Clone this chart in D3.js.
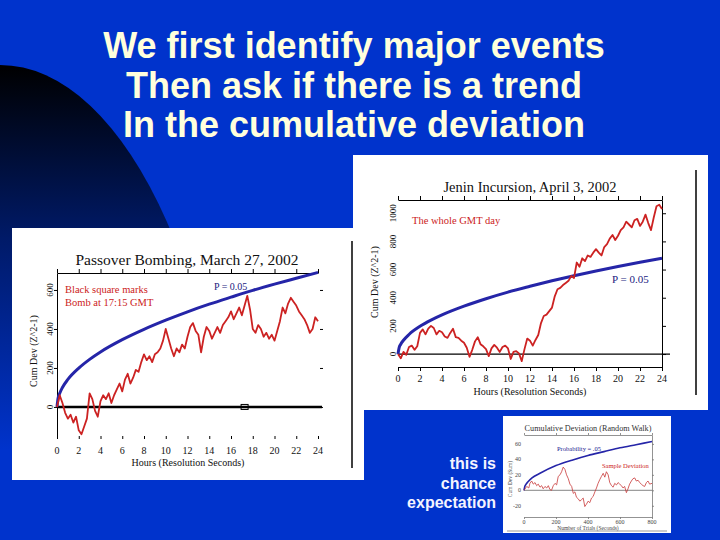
<!DOCTYPE html>
<html><head><meta charset="utf-8">
<script src="https://cdn.jsdelivr.net/npm/d3@7"></script>
<style>body{margin:0;background:#0033cc}svg{display:block}</style>
</head><body>
<svg id="c" width="720" height="540"></svg>
<script>
// ---------- text ----------
const titleLines = ["We first identify major events", "Then ask if there is a trend", "In the cumulative deviation"];
const noteLines = ["this is", "chance", "expectation"];

// ---------- Passover chart ----------
const passoverTitle = "Passover Bombing, March 27, 2002";
const passoverNotes = ["Black square marks", "Bomb at 17:15 GMT"];
const hourTicks = [0, 2, 4, 6, 8, 10, 12, 14, 16, 18, 20, 22, 24];
const passoverYTicks = [0, 200, 400, 600];
const sampleStepHours = 0.25; // data sampled every quarter hour
const passoverValues = [
  0, 60, 20, -30, -60, -40, -80, -50, -120, -140,
  -100, -60, 70, 40, -20, -50, 30, 60, 40, 70,
  20, 60, 90, 120, 80, 140, 170, 120, 150, 190,
  180, 230, 270, 240, 260, 230, 270, 280, 300, 340,
  400, 350, 300, 260, 300, 280, 320, 300, 360, 410,
  430, 390, 370, 280, 360, 410, 390, 350, 380, 410,
  380, 420, 440, 460, 490, 450, 480, 510, 470, 520,
  570, 500, 400, 380, 420, 400, 360, 380, 350, 370,
  340, 390, 440, 510, 480, 530, 560, 540, 520, 490,
  470, 450, 420, 380, 400, 460, 440];
const boundHours = [0, 0.1, 0.25, 0.5, 1, 2, 3, 4, 6, 8, 10, 12, 14, 16, 18, 20, 22, 24];
const passoverBound = [0, 44, 70, 100, 141, 199, 244, 282, 345, 398, 445, 488, 527, 563, 598, 630, 660, 690];
const bombHour = 17.25;

// ---------- Jenin chart ----------
const jeninTitle = "Jenin Incursion, April 3, 2002";
const jeninNote = "The whole GMT day";
const jeninYTicks = [0, 200, 400, 600, 800, 1000];
const jeninValues = [
  0, -30, 15, -5, 50, 60, 30, 55, 150, 175,
  140, 180, 200, 185, 140, 165, 155, 125, 115, 150,
  180, 120, 115, 95, 80, 45, -20, 30, 90, 120,
  70, 55, 35, -15, 40, 65, 45, 15, 50, 60,
  40, -35, 15, 20, 5, -50, 35, 110, 95, 60,
  100, 135, 220, 270, 280, 305, 330, 410, 460, 470,
  490, 505, 520, 555, 540, 650, 620, 680, 660, 700,
  690, 720, 745, 720, 700, 760, 780, 820, 845, 810,
  840, 880, 900, 940, 920, 900, 950, 960, 910, 940,
  990, 930, 880, 970, 1050, 1060, 1030];
const jeninBound = [0, 44, 70, 98, 139, 197, 241, 278, 340, 393, 440, 481, 520, 556, 590, 622, 652, 681];

// ---------- Random walk chart ----------
const walkTitle = "Cumulative Deviation (Random Walk)";
const walkXTicks = [0, 200, 400, 600, 800];
const walkYTicks = [-20, 0, 20, 40, 60];
const walkTrials = [
  0, 17, 30, 37, 48, 58, 69, 79, 89, 100,
  110, 120, 131, 142, 152, 162, 172, 183, 194, 204,
  214, 225, 235, 245, 256, 266, 277, 287, 298, 308,
  318, 328, 339, 349, 360, 370, 380, 390, 401, 411,
  422, 432, 443, 453, 463, 474, 484, 495, 505, 515,
  526, 536, 547, 557, 567, 578, 588, 598, 609, 619,
  629, 640, 650, 660, 671, 681, 692, 702, 713, 723,
  733, 744, 754, 765, 775, 785, 800];
const walkValues = [
  0, 5, 3, 9, 12, 8, 10, 6, 8, 4,
  6, 2, 5, 3, 6, 1, 0, 6, 9, 7,
  18, 20, 24, 30, 27, 20, 15, 8, 5, -4,
  -2, -9, -11, -14, -12, -10, -21, -18, -14, -16,
  -10, -8, -2, 3, 9, 14, 18, 22, 17, 24,
  20, 10, 6, 4, 9, 7, 10, 8, 6, 3,
  5, -3, 2, 8, 12, 15, 16, 12, 13, 10,
  8, 6, 5, 10, 12, 8, 9];
const walkBoundTrials = [0, 5, 10, 25, 50, 100, 200, 300, 400, 500, 600, 700, 800];
const walkBound = [0, 5, 7, 11, 16, 22, 32, 39, 45, 50, 55, 59, 63];

// ---------- drawing ----------
const RED = "#cc2222", BLUE = "#2525a8", SERIF = "'Liberation Serif','Times New Roman',serif";
const svg = d3.select("#c");
const defs = svg.append("defs");
const grad = defs.append("linearGradient").attr("id", "dark")
  .attr("gradientUnits", "userSpaceOnUse").attr("x1", 0).attr("y1", 65).attr("x2", 0).attr("y2", 450);
grad.append("stop").attr("offset", 0).attr("stop-color", "#000000");
grad.append("stop").attr("offset", 0.45).attr("stop-color", "#001a68");
grad.append("stop").attr("offset", 1).attr("stop-color", "#0033cc");

svg.append("rect").attr("width", 720).attr("height", 540).attr("fill", "#0033cc");
svg.append("ellipse").attr("cx", 0).attr("cy", 600).attr("rx", 236).attr("ry", 535).attr("fill", "url(#dark)");

svg.append("g").selectAll("text").data(titleLines).join("text")
  .attr("x", 354).attr("y", (d, i) => 58 + i * 39.5)
  .attr("text-anchor", "middle")
  .attr("font-family", "'Liberation Sans',Arial,sans-serif").attr("font-weight", "bold")
  .attr("font-size", 36).attr("fill", "#ffffdc").text(d => d);

function styleAxis(sel, color, width) {
  sel.selectAll("path,line").attr("stroke", color).attr("stroke-width", width);
  sel.selectAll("text").remove();
}
function txt(g, x, y, s, size, opts = {}) {
  const t = g.append("text").attr("x", x).attr("y", y).text(s)
    .attr("font-family", opts.family || SERIF).attr("font-size", size)
    .attr("fill", opts.fill || "#111").attr("text-anchor", opts.anchor || "start");
  if (opts.rotate) t.attr("transform", `rotate(-90,${x},${y})`);
  return t;
}

// ===== Jenin panel =====
{
  const g = svg.append("g");
  g.append("rect").attr("x", 353).attr("y", 155).attr("width", 355).attr("height", 255).attr("fill", "#fff");
  const x = d3.scaleLinear().domain([0, 24]).range([398, 662]);
  const y = d3.scaleLinear().domain([-92, 1094]).range([367, 200]);
  g.append("g").attr("transform", `translate(0,${y.range()[1]})`)
    .call(d3.axisTop(x).tickValues(hourTicks).tickSize(4).tickSizeOuter(0)).call(s => styleAxis(s, "#000", 1));
  g.append("g").attr("transform", `translate(0,${y.range()[0]})`)
    .call(d3.axisBottom(x).tickValues(hourTicks).tickSize(4).tickSizeOuter(0)).call(s => styleAxis(s, "#000", 1));
  g.append("g").attr("transform", `translate(${x.range()[1]},0)`)
    .call(d3.axisRight(y).tickValues(jeninYTicks).tickSize(4).tickSizeOuter(0)).call(s => styleAxis(s, "#000", 1));
  g.append("line").attr("x1", x(0)).attr("x2", x(24) + 8).attr("y1", y(0)).attr("y2", y(0)).attr("stroke", "#000").attr("stroke-width", 1.2);
  g.append("g").selectAll("text").data(hourTicks).join("text")
    .attr("x", d => x(d)).attr("y", 382).attr("text-anchor", "middle")
    .attr("font-family", SERIF).attr("font-size", 10).attr("fill", "#111").text(d => d);
  g.append("g").selectAll("text").data(jeninYTicks).join("text")
    .attr("transform", d => `translate(396,${y(d)}) rotate(-90)`).attr("text-anchor", "middle")
    .attr("font-family", SERIF).attr("font-size", 9).attr("fill", "#111").text(d => d);
  txt(g, 530, 192, jeninTitle, 14.5, { anchor: "middle" });
  txt(g, 530, 395, "Hours (Resolution Seconds)", 10, { anchor: "middle" });
  txt(g, 378, 282, "Cum Dev (Z^2-1)", 10, { anchor: "middle", rotate: true });
  txt(g, 412, 224, jeninNote, 10.5, { fill: RED });
  txt(g, 612, 283, "P = 0.05", 11, { fill: "#1a1a80" });
  g.append("path").datum(boundHours.map((h, i) => [h, jeninBound[i]]))
    .attr("d", d3.line().x(d => x(d[0])).y(d => y(d[1])).curve(d3.curveMonotoneX))
    .attr("fill", "none").attr("stroke", BLUE).attr("stroke-width", 3);
  g.append("path").datum(jeninValues.map((v, i) => [i * sampleStepHours, v]))
    .attr("d", d3.line().x(d => x(d[0])).y(d => y(d[1])))
    .attr("fill", "none").attr("stroke", RED).attr("stroke-width", 1.8).attr("stroke-linejoin", "round");
  g.append("line").attr("x1", 696).attr("x2", 696).attr("y1", 170).attr("y2", 395).attr("stroke", "#000").attr("stroke-width", 1.5);
}

// ===== Passover panel =====
{
  const g = svg.append("g");
  g.append("rect").attr("x", 12).attr("y", 228).attr("width", 352).attr("height", 252).attr("fill", "#fff");
  const x = d3.scaleLinear().domain([0, 24]).range([57, 318]);
  const y = d3.scaleLinear().domain([-149, 687]).range([436, 273]);
  g.append("g").attr("transform", `translate(0,${y.range()[1]})`)
    .call(d3.axisTop(x).tickValues(hourTicks).tickSize(4).tickSizeOuter(0)).call(s => styleAxis(s, "#000", 1));
  g.append("g").attr("transform", `translate(${x.range()[0]},0)`)
    .call(d3.axisLeft(y).tickValues(passoverYTicks).tickSize(3).tickSizeOuter(0)).call(s => styleAxis(s, "#000", 1));
  g.append("g").attr("transform", `translate(0,${y.range()[0]})`)
    .call(d3.axisBottom(x).tickValues(hourTicks).tickSize(3).tickSizeOuter(0))
    .call(s => { styleAxis(s, "#000", 1); s.select(".domain").remove(); });
  g.append("g").attr("transform", `translate(${x.range()[1] + 2},0)`)
    .call(d3.axisRight(y).tickValues(passoverYTicks).tickSize(3).tickSizeOuter(0))
    .call(s => { styleAxis(s, "#000", 1); s.select(".domain").remove(); });
  g.append("line").attr("x1", x(0)).attr("x2", x(24) + 4).attr("y1", y(0)).attr("y2", y(0)).attr("stroke", "#000").attr("stroke-width", 2.5);
  g.append("rect").attr("x", x(bombHour) - 3.5).attr("y", y(0) - 2.5).attr("width", 7).attr("height", 5)
    .attr("fill", "none").attr("stroke", "#000").attr("stroke-width", 1);
  g.append("g").selectAll("text").data(hourTicks).join("text")
    .attr("x", d => x(d)).attr("y", 454).attr("text-anchor", "middle")
    .attr("font-family", SERIF).attr("font-size", 10).attr("fill", "#111").text(d => d);
  g.append("g").selectAll("text").data(passoverYTicks).join("text")
    .attr("transform", d => `translate(53,${y(d)}) rotate(-90)`).attr("text-anchor", "middle")
    .attr("font-family", SERIF).attr("font-size", 9).attr("fill", "#111").text(d => d);
  txt(g, 187, 265, passoverTitle, 15.5, { anchor: "middle" });
  txt(g, 188, 466, "Hours (Resolution Seconds)", 10, { anchor: "middle" });
  txt(g, 37, 351, "Cum Dev (Z^2-1)", 10, { anchor: "middle", rotate: true });
  passoverNotes.forEach((s, i) => txt(g, 65, 293 + i * 12.5, s, 10.5, { fill: RED }));
  txt(g, 214, 290, "P = 0.05", 10, { fill: "#1a1a80" });
  g.append("path").datum(boundHours.map((h, i) => [h, passoverBound[i]]))
    .attr("d", d3.line().x(d => x(d[0])).y(d => y(d[1])).curve(d3.curveMonotoneX))
    .attr("fill", "none").attr("stroke", BLUE).attr("stroke-width", 3);
  g.append("path").datum(passoverValues.map((v, i) => [i * sampleStepHours, v]))
    .attr("d", d3.line().x(d => x(d[0])).y(d => y(d[1])))
    .attr("fill", "none").attr("stroke", RED).attr("stroke-width", 1.8).attr("stroke-linejoin", "round");
  g.append("line").attr("x1", 352).attr("x2", 352).attr("y1", 241).attr("y2", 468).attr("stroke", "#000").attr("stroke-width", 1.5);
}

// ===== Random walk panel =====
{
  const g = svg.append("g");
  g.append("rect").attr("x", 503).attr("y", 416).attr("width", 168).attr("height", 117).attr("fill", "#fff");
  const x = d3.scaleLinear().domain([0, 800]).range([524, 652]);
  const y = d3.scaleLinear().domain([-34.5, 71.5]).range([517, 435]);
  g.append("g").attr("transform", `translate(0,${y.range()[1]})`)
    .call(d3.axisTop(x).tickValues(walkXTicks).tickSize(2).tickSizeOuter(0)).call(s => styleAxis(s, "#777", 0.8));
  g.append("g").attr("transform", `translate(0,${y.range()[0]})`)
    .call(d3.axisBottom(x).tickValues(walkXTicks).tickSize(2).tickSizeOuter(0)).call(s => styleAxis(s, "#777", 0.8));
  g.append("g").attr("transform", `translate(${x.range()[1]},0)`)
    .call(d3.axisRight(y).tickValues(walkYTicks).tickSize(2).tickSizeOuter(0)).call(s => styleAxis(s, "#777", 0.8));
  g.append("line").attr("x1", x(0)).attr("x2", x(800)).attr("y1", y(0)).attr("y2", y(0)).attr("stroke", "#666").attr("stroke-width", 0.8);
  g.append("g").selectAll("text").data(walkXTicks).join("text")
    .attr("x", d => x(d)).attr("y", 524).attr("text-anchor", "middle")
    .attr("font-family", SERIF).attr("font-size", 6).attr("fill", "#444").text(d => d);
  g.append("g").selectAll("text").data(walkYTicks).join("text")
    .attr("x", 521).attr("y", d => y(d) + 2).attr("text-anchor", "end")
    .attr("font-family", SERIF).attr("font-size", 6).attr("fill", "#444").text(d => d);
  txt(g, 588, 431, walkTitle, 8.2, { anchor: "middle", fill: "#333" });
  txt(g, 588, 530, "Number of Trials (Seconds)", 5.5, { anchor: "middle", fill: "#444" });
  txt(g, 512, 479, "Cum Dev (Sum)", 5.5, { anchor: "middle", rotate: true, fill: "#444" });
  txt(g, 557, 451, "Probability = .05", 6.5, { fill: "#202090" });
  txt(g, 602, 468, "Sample Deviation", 6.5, { fill: RED });
  g.append("path").datum(walkBoundTrials.map((t, i) => [t, walkBound[i]]))
    .attr("d", d3.line().x(d => x(d[0])).y(d => y(d[1])).curve(d3.curveMonotoneX))
    .attr("fill", "none").attr("stroke", BLUE).attr("stroke-width", 1.6);
  g.append("path").datum(walkTrials.map((t, i) => [t, walkValues[i]]))
    .attr("d", d3.line().x(d => x(d[0])).y(d => y(d[1])))
    .attr("fill", "none").attr("stroke", "#c83838").attr("stroke-width", 0.8);
  g.append("line").attr("x1", 507).attr("x2", 667).attr("y1", 531).attr("y2", 531).attr("stroke", "#999").attr("stroke-width", 1);
}

svg.append("g").selectAll("text").data(noteLines).join("text")
  .attr("x", 496).attr("y", (d, i) => 469 + i * 19.5).attr("text-anchor", "end")
  .attr("font-family", "'Liberation Sans',Arial,sans-serif").attr("font-weight", "bold")
  .attr("font-size", 16).attr("fill", "#f4f4ff").text(d => d);
</script>
</body></html>
